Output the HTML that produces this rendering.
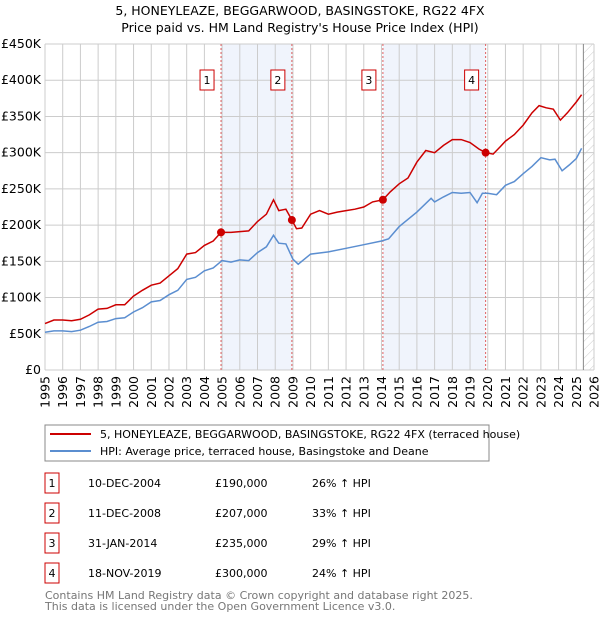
<!DOCTYPE html>
<html><head><meta charset="utf-8"><style>
body{margin:0;background:#fff;font-family:"DejaVu Sans","Liberation Sans",sans-serif;}
svg text{font-family:"DejaVu Sans","Liberation Sans",sans-serif;}
</style></head><body>
<svg id="c" width="600" height="620" xmlns="http://www.w3.org/2000/svg">
<defs><pattern id="hatch" width="6" height="6" patternUnits="userSpaceOnUse" patternTransform="rotate(45)"><line x1="0" y1="0" x2="0" y2="6" stroke="#ccc" stroke-width="1"/></pattern></defs>
<text x="300" y="15" text-anchor="middle" font-size="12.5">5, HONEYLEAZE, BEGGARWOOD, BASINGSTOKE, RG22 4FX</text>
<text x="300" y="32" text-anchor="middle" font-size="12.5">Price paid vs. HM Land Registry's House Price Index (HPI)</text>
<g id="grid"></g><g id="marks"></g><g id="axes"></g>
<rect x="45" y="425" width="444" height="36" fill="#fff" stroke="#888"/>
<line x1="50" y1="434" x2="91" y2="434" stroke="#cc0000" stroke-width="2"/>
<text x="100" y="438" font-size="11">5, HONEYLEAZE, BEGGARWOOD, BASINGSTOKE, RG22 4FX (terraced house)</text>
<line x1="50" y1="451" x2="91" y2="451" stroke="#5b8ed0" stroke-width="2"/>
<text x="100" y="455" font-size="11">HPI: Average price, terraced house, Basingstoke and Deane</text>
<g id="table" font-size="11"></g>
<text x="45" y="599" font-size="11" fill="#777">Contains HM Land Registry data © Crown copyright and database right 2025.</text>
<text x="45" y="610" font-size="11" fill="#777">This data is licensed under the Open Government Licence v3.0.</text>
</svg>
<script>
const hpiYears=[1995,1995.5,1996,1996.5,1997,1997.5,1998,1998.5,1999,1999.5,2000,2000.5,2001,2001.5,2002,2002.5,2003,2003.5,2004,2004.5,2005,2005.5,2006,2006.5,2007,2007.5,2007.9,2008.2,2008.6,2009,2009.3,2010,2011,2012,2013,2014,2014.4,2015,2016,2016.8,2017,2017.5,2018,2018.5,2019,2019.4,2019.7,2020,2020.5,2021,2021.5,2022,2022.5,2023,2023.5,2023.8,2024.2,2024.6,2025,2025.3];
const hpiValues=[52,54,54,53,55,60,66,67,71,72,80,86,94,96,104,110,125,128,137,141,151,149,152,151,162,170,186,175,174,153,146,160,163,168,173,178,181,198,218,237,232,239,245,244,245,231,244,244,242,255,260,271,281,293,290,291,275,283,292,306];
const ppYears=[1995,1995.5,1996,1996.5,1997,1997.5,1998,1998.5,1999,1999.5,2000,2000.5,2001,2001.5,2002,2002.5,2003,2003.5,2004,2004.5,2004.94,2005.5,2006,2006.5,2007,2007.5,2007.9,2008.2,2008.6,2008.94,2009.2,2009.5,2010,2010.5,2011,2011.5,2012,2012.5,2013,2013.5,2014.08,2014.5,2015,2015.5,2016,2016.5,2017,2017.5,2018,2018.5,2019,2019.5,2019.88,2020.3,2020.7,2021,2021.5,2022,2022.5,2022.9,2023.3,2023.7,2024.1,2024.5,2025,2025.3];
const ppValues=[64,69,69,68,70,76,84,85,90,90,102,110,117,120,130,140,160,162,172,178,190,190,191,192,205,215,235,220,222,207,195,196,215,220,215,218,220,222,225,232,235,246,257,265,287,303,300,310,318,318,314,305,300,298,308,316,325,338,355,365,362,360,345,355,370,380];
const saleYears=[2004.94,2008.94,2014.08,2019.88];
const saleValues=[190,207,235,300];
const saleLabels=["1","2","3","4"];
const saleDates=["10-DEC-2004","11-DEC-2008","31-JAN-2014","18-NOV-2019"];
const salePrices=["£190,000","£207,000","£235,000","£300,000"];
const saleHpi=["26% ↑ HPI","33% ↑ HPI","29% ↑ HPI","24% ↑ HPI"];
const yTicks=[0,50,100,150,200,250,300,350,400,450];
const yTickLabels=["£0","£50K","£100K","£150K","£200K","£250K","£300K","£350K","£400K","£450K"];
const xTicks=[1995,1996,1997,1998,1999,2000,2001,2002,2003,2004,2005,2006,2007,2008,2009,2010,2011,2012,2013,2014,2015,2016,2017,2018,2019,2020,2021,2022,2023,2024,2025,2026];

const X0=45,X1=594,Y0=370,Y1=44;
const x=v=>X0+(v-1995)*(X1-X0)/31;
const y=v=>Y0-v*(Y0-Y1)/450;
const NS="http://www.w3.org/2000/svg";
function mk(p,t,a){const e=document.createElementNS(NS,t);for(const k in a)e.setAttribute(k,a[k]);p.appendChild(e);return e;}
const grid=document.getElementById('grid'),marks=document.getElementById('marks'),axes=document.getElementById('axes'),table=document.getElementById('table');
for(let i=0;i<4;i+=2){const r=mk(grid,'rect',{x:x(saleYears[i]),y:Y1,width:x(saleYears[i+1])-x(saleYears[i]),height:Y0-Y1,fill:'#f0f4fc'});

}
const hz=mk(grid,'rect',{x:x(2025.4),y:Y1,width:X1-x(2025.4),height:Y0-Y1,fill:'url(#hatch)'});


yTicks.forEach((t,i)=>{mk(grid,'line',{x1:X0,x2:X1,y1:y(t),y2:y(t),stroke:'#ccc'});
const tx=mk(axes,'text',{x:X0-4,y:y(t)+4,'text-anchor':'end','font-size':12.5});tx.textContent=yTickLabels[i];

});
xTicks.forEach(t=>{mk(grid,'line',{x1:x(t),x2:x(t),y1:Y1,y2:Y0,stroke:'#ccc'});
const px=x(t)+4.5,py=376;
const tx=mk(axes,'text',{x:px,y:py,'text-anchor':'end','font-size':12.5,transform:`rotate(-90 ${px} ${py})`});tx.textContent=t;

});
mk(grid,'line',{x1:x(2025.4),x2:x(2025.4),y1:Y1,y2:Y0,stroke:'#888'});
saleYears.forEach((s,i)=>{mk(marks,'line',{x1:x(s),x2:x(s),y1:Y1,y2:Y0,stroke:'#e06060','stroke-dasharray':'2,2'});
const b=mk(axes,'rect',{x:x(s)-21,y:70,width:14,height:20,fill:'#fff',stroke:'#cc0000'});


const t=mk(axes,'text',{x:x(s)-14,y:84,'text-anchor':'middle','font-size':11});t.textContent=saleLabels[i];});
function pts(xs,vs){return xs.map((a,i)=>x(a).toFixed(1)+','+y(vs[i]).toFixed(1)).join(' ');}
const hl=mk(marks,'polyline',{points:pts(hpiYears,hpiValues),fill:'none',stroke:'#5b8ed0','stroke-width':1.5});


const pl=mk(marks,'polyline',{points:pts(ppYears,ppValues),fill:'none',stroke:'#cc0000','stroke-width':1.5});


saleYears.forEach((s,i)=>{const c=mk(marks,'circle',{cx:x(s),cy:y(saleValues[i]),r:4,fill:'#cc0000'});

});
saleLabels.forEach((l,i)=>{const cy=483+i*30;
const b=mk(table,'rect',{x:45,y:cy-10,width:14,height:20,fill:'#fff',stroke:'#cc0000'});


const cols=[[52,l,'middle'],[88,saleDates[i],'start'],[215,salePrices[i],'start'],[312,saleHpi[i],'start']];
cols.forEach(c=>{const t=mk(table,'text',{x:c[0],y:cy+4,'text-anchor':c[2]});t.textContent=c[1];

});});
</script>
</body></html>
